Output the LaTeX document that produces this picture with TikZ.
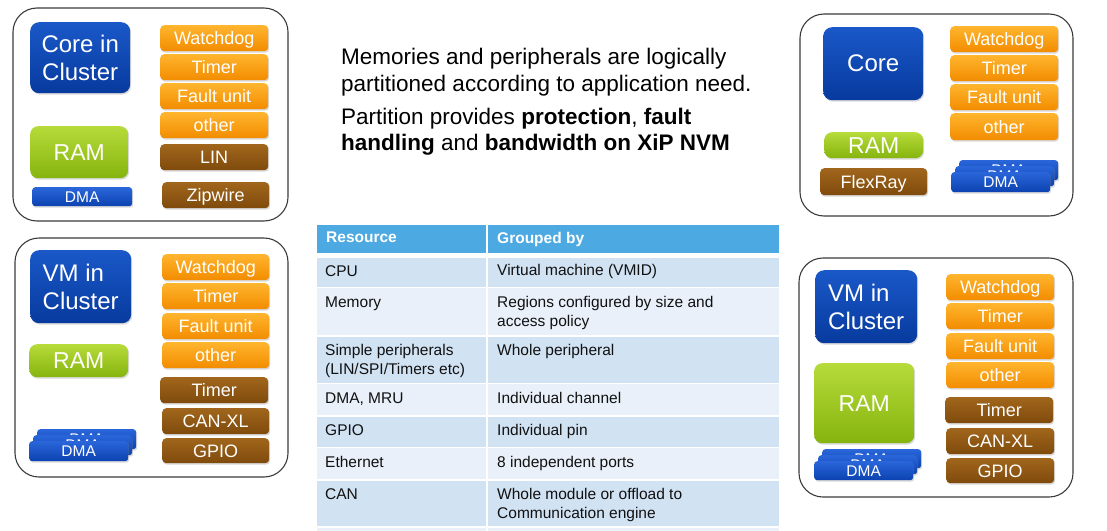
\documentclass[tikz,border=0pt]{standalone}
\usepackage{fontspec}
\setmainfont{Liberation Sans}
\usepackage{xcolor}
\usetikzlibrary{positioning,shadows}
\definecolor{PanelEdge}{HTML}{3A3A3A}
\definecolor{CoreTop}{HTML}{1A58C8}
\definecolor{CoreBot}{HTML}{073A9E}
\definecolor{RamTop}{HTML}{B6DB3A}
\definecolor{RamBot}{HTML}{86B40E}
\definecolor{OrgTop}{HTML}{FFB52E}
\definecolor{OrgBot}{HTML}{F28C00}
\definecolor{BrnTop}{HTML}{A1661C}
\definecolor{BrnBot}{HTML}{7F4A0C}
\definecolor{DmaTop}{HTML}{2A66DA}
\definecolor{DmaBot}{HTML}{0C42B0}
\definecolor{HeadBlue}{HTML}{4DA9E1}
\definecolor{RowDark}{HTML}{D1E2F3}
\definecolor{RowLight}{HTML}{E9F0F9}
\definecolor{TextInk}{HTML}{111111}

\begin{document}
\begin{tikzpicture}[x=1pt, y=-1pt,
    panel/.style={draw=PanelEdge, line width=1.1pt, rounded corners=24pt},
    blk/.style={anchor=north west, inner sep=0pt, text=white, align=center,
      drop shadow={shadow xshift=1pt, shadow yshift=-1.5pt, opacity=0.3}},
    corebox/.style={blk, rounded corners=9pt, top color=CoreTop, bottom color=CoreBot,
      font=\fontsize{24}{28}\selectfont},
    rambox/.style={blk, rounded corners=8pt, top color=RamTop, bottom color=RamBot,
      font=\fontsize{23}{26}\selectfont, text height=16.5pt, text depth=0pt},
    orgbox/.style={blk, rounded corners=4pt, top color=OrgTop, bottom color=OrgBot,
      minimum width=108pt, minimum height=26pt,
      font=\fontsize{18}{20}\selectfont, text height=13pt, text depth=0pt},
    brnbox/.style={orgbox, top color=BrnTop, bottom color=BrnBot},
    dmabox/.style={blk, rounded corners=3pt, top color=DmaTop, bottom color=DmaBot,
      minimum width=99pt, minimum height=19pt,
      font=\fontsize{15.5}{17}\selectfont, text height=11pt, text depth=0pt},
    intro/.style={anchor=north west, inner sep=0pt, align=left, text=black,
      font=\fontsize{22.5}{26.5}\selectfont},
    thead/.style={anchor=north west, inner sep=0pt, text=white,
      font=\fontsize{15.5}{19}\selectfont\bfseries},
    tcell/.style={anchor=north west, inner sep=0pt, align=left, text=TextInk,
      font=\fontsize{15.5}{19}\selectfont}
  ]
    \useasboundingbox (0,0) rectangle (1107,530);

    % core cluster, top left
    \draw[panel] (13,8) rectangle (288,221);
    \node[corebox, minimum width=100pt, minimum height=71pt] (coreA) at (30,22) {Core in\\Cluster};
    \node[rambox, minimum width=98pt, minimum height=52pt] (ramA) at (30,126) {RAM};
    \node[dmabox, minimum width=100pt] (dmaA) at (32,187) {DMA};
    \node[orgbox] (wdA) at (160,25) {Watchdog};
    \node[orgbox] (tmA) at (160,54) {Timer};
    \node[orgbox] (fuA) at (160,83) {Fault unit};
    \node[orgbox] (otA) at (160,112) {other};
    \node[brnbox] (linA) at (160,144) {LIN};
    \node[brnbox, minimum width=107pt] (zipA) at (162,182) {Zipwire};

    % core, top right
    \draw[panel] (800,14) rectangle (1073,216);
    \node[corebox, minimum width=100pt, minimum height=73pt] (coreB) at (823,27) {Core};
    \node[orgbox] (wdB) at (950,26) {Watchdog};
    \node[orgbox] (tmB) at (950,55) {Timer};
    \node[orgbox] (fuB) at (950,84) {Fault unit};
    \node[orgbox, minimum height=27pt] (otB) at (950,113) {other};
    \node[rambox, minimum width=99pt, minimum height=26pt] (ramB) at (824,132) {RAM};
    \node[brnbox, minimum width=107pt, minimum height=27pt] (frB) at (820,168) {FlexRay};
    \node[dmabox, minimum height=20pt] (dmaBc) at (959,160) {DMA};
    \node[dmabox, minimum height=20pt] (dmaBb) at (955,166) {DMA};
    \node[dmabox, minimum height=20pt] (dmaB) at (951,172) {DMA};

    % VM cluster, bottom left
    \draw[panel] (15,238) rectangle (288,477);
    \node[corebox, align=left, minimum width=101pt, minimum height=73pt] (vmC) at (30,250) {VM in\\Cluster};
    \node[rambox, minimum width=99pt, minimum height=33pt] (ramC) at (29,344) {RAM};
    \node[dmabox, minimum height=20pt] (dmaCc) at (37,429) {DMA};
    \node[dmabox, minimum height=20pt] (dmaCb) at (33,435) {DMA};
    \node[dmabox, minimum height=20pt] (dmaC) at (29,441) {DMA};
    \node[orgbox, minimum width=107pt] (wdC) at (162,254) {Watchdog};
    \node[orgbox, minimum width=107pt] (tmC) at (162,283) {Timer};
    \node[orgbox, minimum width=107pt] (fuC) at (162,313) {Fault unit};
    \node[orgbox, minimum width=107pt] (otC) at (162,342) {other};
    \node[brnbox] (tbC) at (160,377) {Timer};
    \node[brnbox, minimum width=107pt] (canC) at (162,408) {CAN-XL};
    \node[brnbox, minimum width=107pt, minimum height=25pt] (gpC) at (162,438) {GPIO};

    % VM cluster, bottom right
    \draw[panel] (799,258) rectangle (1073,497);
    \node[corebox, align=left, minimum width=102pt, minimum height=73pt] (vmD) at (815,270) {VM in\\Cluster};
    \node[rambox, minimum width=100pt, minimum height=80pt] (ramD) at (814,363) {RAM};
    \node[dmabox] (dmaDc) at (822,449) {DMA};
    \node[dmabox] (dmaDb) at (818,455) {DMA};
    \node[dmabox] (dmaD) at (814,461) {DMA};
    \node[orgbox] (wdD) at (946,274) {Watchdog};
    \node[orgbox] (tmD) at (946,303) {Timer};
    \node[orgbox] (fuD) at (946,333) {Fault unit};
    \node[orgbox] (otD) at (946,362) {other};
    \node[brnbox] (tbD) at (945,397) {Timer};
    \node[brnbox] (canD) at (946,428) {CAN-XL};
    \node[brnbox, minimum height=25pt] (gpD) at (946,458) {GPIO};

    % statement
    \node[intro] (intro) at (341,48) {Memories and peripherals are logically\\partitioned according to application need.};
    \node[intro] (partition) at (341,107.5) {Partition provides \textbf{protection}, \textbf{fault}\\\textbf{handling} and \textbf{bandwidth on XiP NVM}};

    % table
    \fill[HeadBlue] (317,225) rectangle (486,253);
    \fill[HeadBlue] (488,225) rectangle (779,253);
    \fill[RowDark] (317,257.5) rectangle (486,286.7);
    \fill[RowDark] (488,257.5) rectangle (779,286.7);
    \fill[RowLight] (317,288.3) rectangle (486,335);
    \fill[RowLight] (488,288.3) rectangle (779,335);
    \fill[RowDark] (317,336.7) rectangle (486,382.7);
    \fill[RowDark] (488,336.7) rectangle (779,382.7);
    \fill[RowLight] (317,384) rectangle (486,415);
    \fill[RowLight] (488,384) rectangle (779,415);
    \fill[RowDark] (317,416.7) rectangle (486,446.7);
    \fill[RowDark] (488,416.7) rectangle (779,446.7);
    \fill[RowLight] (317,447.7) rectangle (486,479);
    \fill[RowLight] (488,447.7) rectangle (779,479);
    \fill[RowDark] (317,480.7) rectangle (486,526);
    \fill[RowDark] (488,480.7) rectangle (779,526);
    \fill[RowLight] (317,528) rectangle (486,531);
    \fill[RowLight] (488,528) rectangle (779,531);

    \node[thead] (hres) at (326,232) {Resource};
    \node[thead] (hgrp) at (497,232) {Grouped by};
    \node[tcell] (rcpu) at (325,265) {CPU};
    \node[tcell] (gcpu) at (497,264.5) {Virtual machine (VMID)};
    \node[tcell] (rmem) at (325,296.5) {Memory};
    \node[tcell] (gmem) at (497,296.5) {Regions configured by size and\\access policy};
    \node[tcell] (rsim) at (325,344.5) {Simple peripherals\\(LIN/SPI/Timers etc)};
    \node[tcell] (gsim) at (497,344.5) {Whole peripheral};
    \node[tcell] (rdma) at (325,392.5) {DMA, MRU};
    \node[tcell] (gdma) at (497,392.5) {Individual channel};
    \node[tcell] (rgpio) at (325,424.5) {GPIO};
    \node[tcell] (ggpio) at (497,424.5) {Individual pin};
    \node[tcell] (reth) at (325,456.5) {Ethernet};
    \node[tcell] (geth) at (497,456.5) {8 independent ports};
    \node[tcell] (rcan) at (325,488.5) {CAN};
    \node[tcell] (gcan) at (497,488.5) {Whole module or offload to\\Communication engine};
  \end{tikzpicture}
\end{document}
